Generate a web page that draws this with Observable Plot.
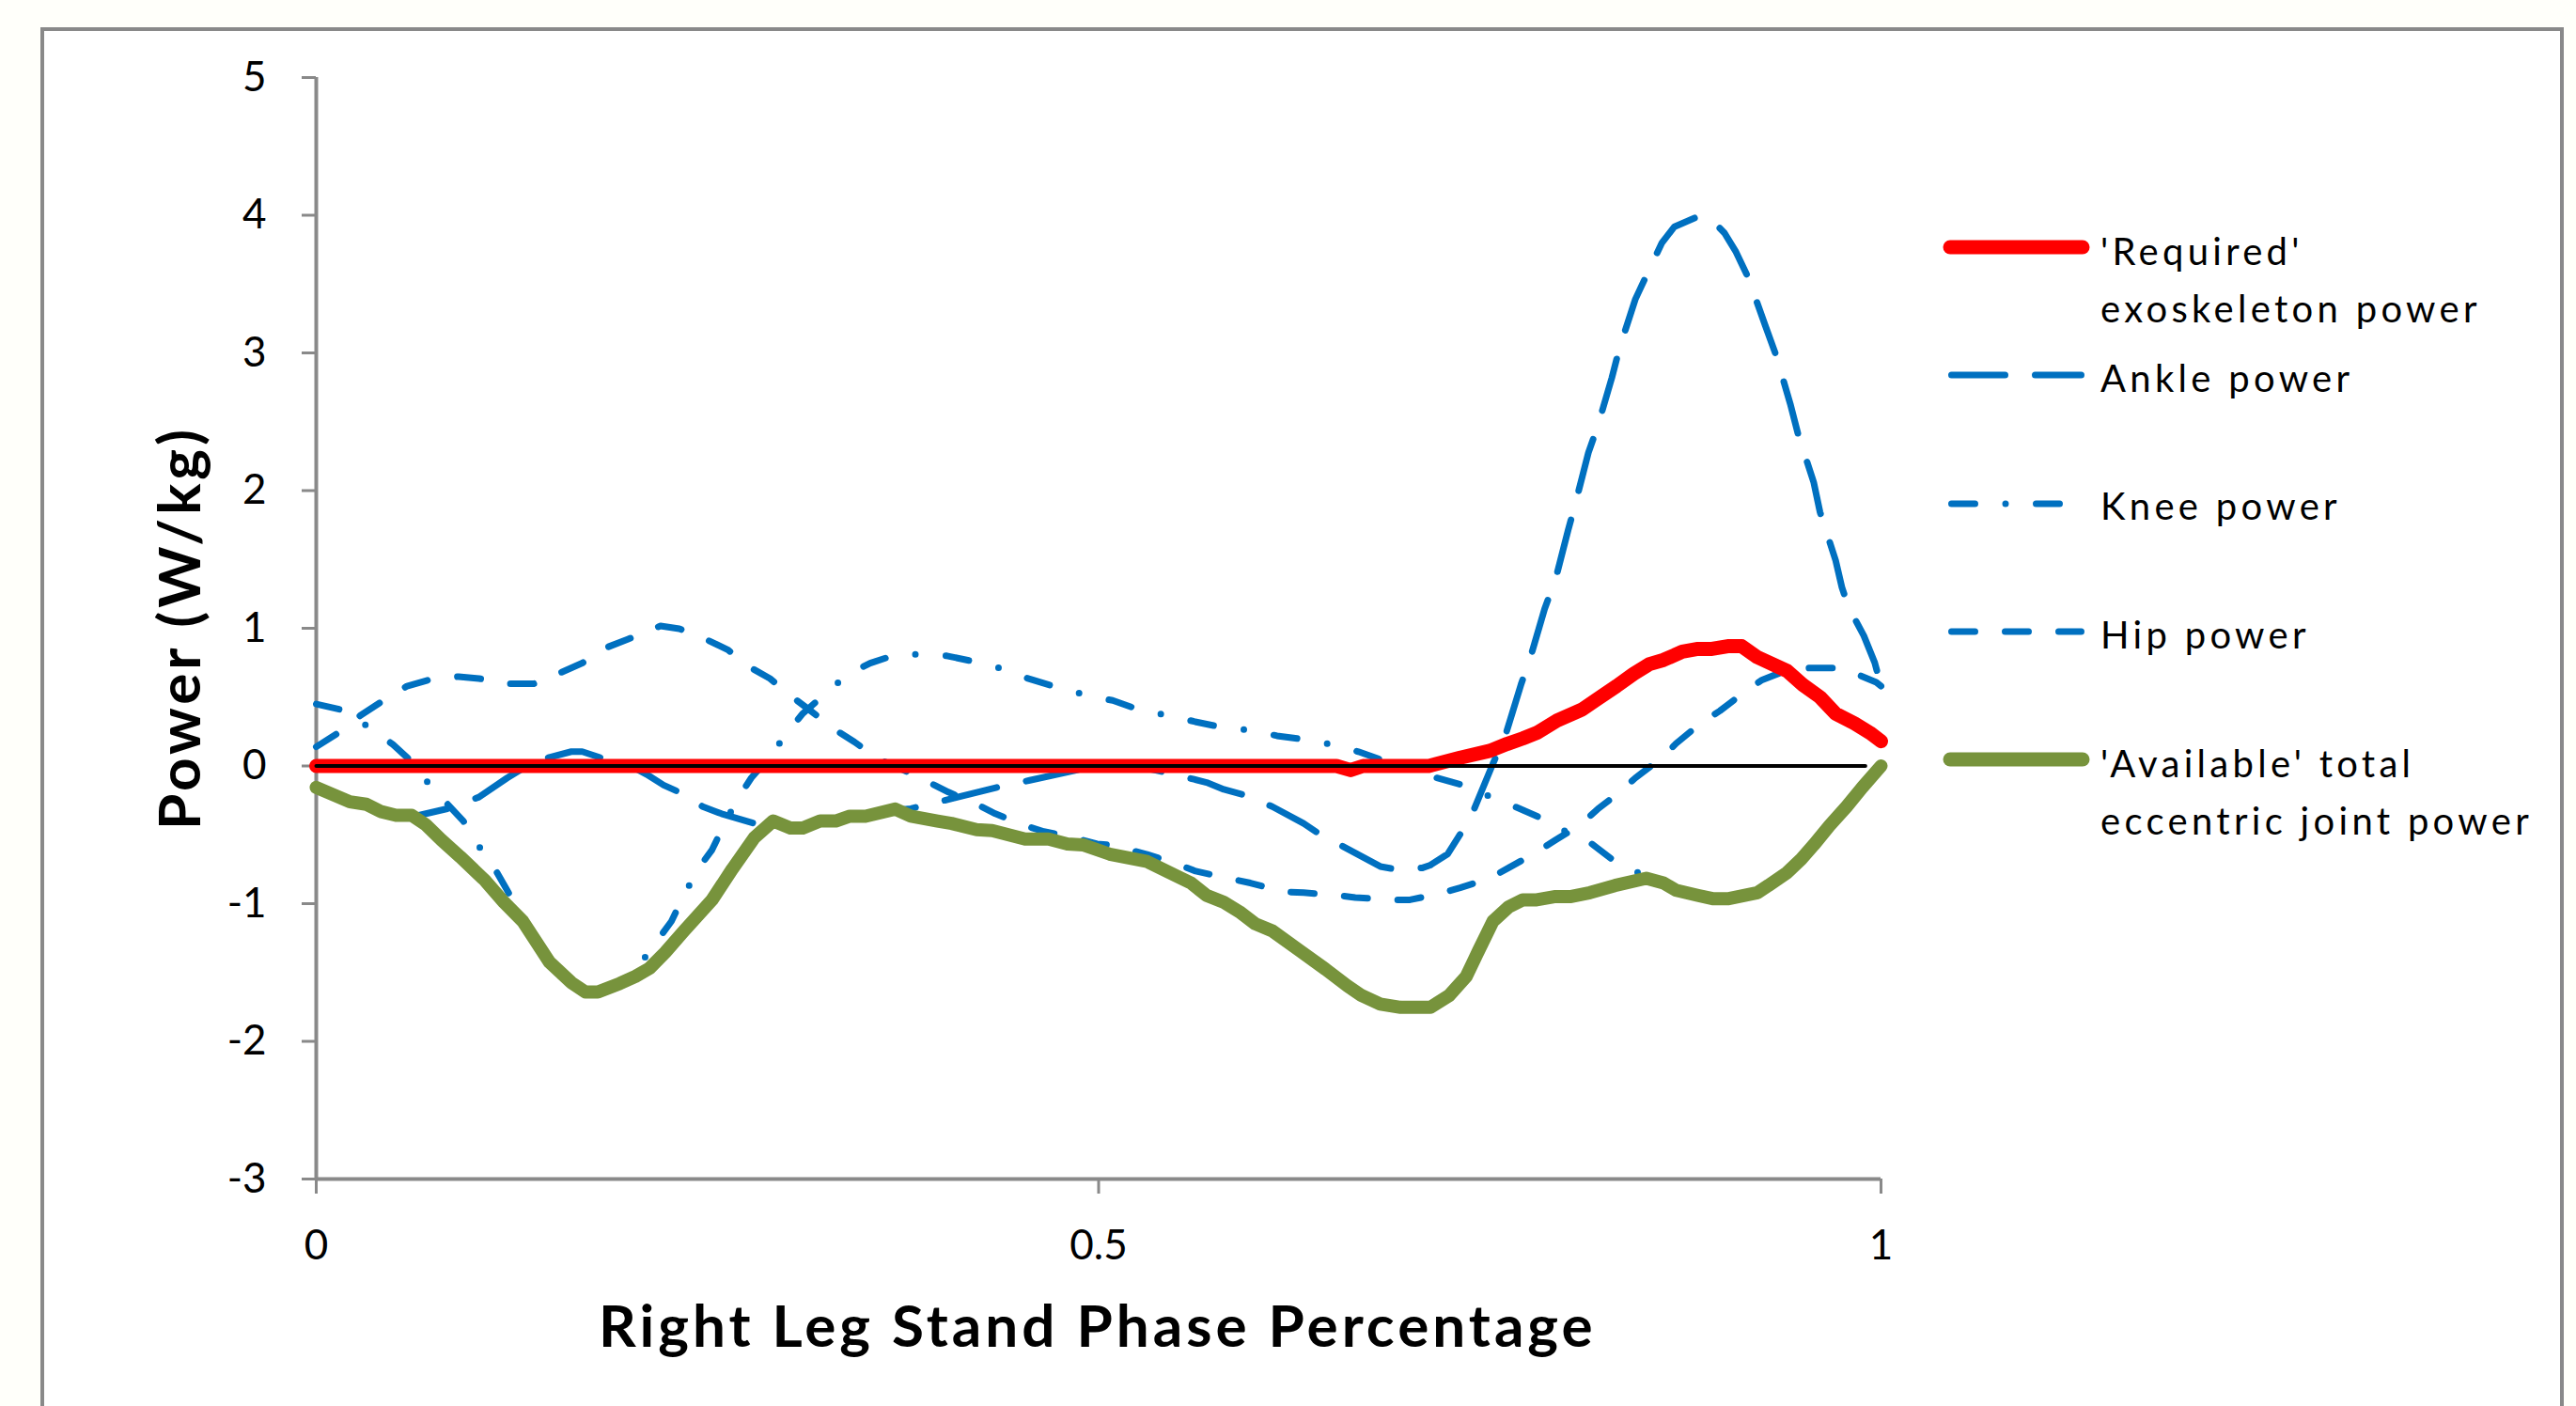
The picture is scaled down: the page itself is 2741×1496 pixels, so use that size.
<!DOCTYPE html>
<html>
<head>
<meta charset="utf-8">
<script src="https://cdn.jsdelivr.net/npm/d3@7"></script>
<script src="https://cdn.jsdelivr.net/npm/@observablehq/plot@0.6"></script>
<style>
  html, body { margin: 0; padding: 0; background: #fffffa; width: 2741px; height: 1496px; overflow: hidden; }
  #frame { position: absolute; left: 43px; top: 29px; width: 2677px; height: 1600px; border: 4px solid #898989; background: #ffffff; }
  #chart { position: absolute; left: 0; top: 0; }
  #legend { position: absolute; left: 0; top: 0; }
  .title { position: absolute; font-family: Lato, "Open Sans", sans-serif; font-weight: bold; font-size: 62px; letter-spacing: 4px; color: #000; white-space: nowrap; }
</style>
</head>
<body>
<div id="frame"></div>
<div id="chart"></div>
<svg id="legend" width="2741" height="1496"></svg>
<div class="title" id="xtitle">Right Leg Stand Phase Percentage</div>
<div class="title" id="ytitle">Power (W/kg)</div>
<script>
// ---- data ----
const xTicks = [0, 0.5, 1];
const yTicks = [-3, -2, -1, 0, 1, 2, 3, 4, 5];

const requiredX = [0, 0.652, 0.661, 0.669, 0.711, 0.731, 0.750, 0.761, 0.771, 0.780, 0.793, 0.809, 0.818, 0.831, 0.842, 0.852, 0.861, 0.873, 0.883, 0.892, 0.902, 0.911, 0.921, 0.940, 0.950, 0.961, 0.971, 0.983, 0.993, 1.0];
const requiredY = [0, 0, -0.03, 0, 0, 0.06, 0.11, 0.16, 0.20, 0.24, 0.33, 0.41, 0.48, 0.58, 0.67, 0.74, 0.77, 0.83, 0.85, 0.85, 0.87, 0.87, 0.79, 0.69, 0.59, 0.50, 0.38, 0.31, 0.24, 0.18];

const ankleX = [0, 0.021, 0.032, 0.041, 0.051, 0.063, 0.084, 0.104, 0.122, 0.132, 0.149, 0.163, 0.170, 0.184, 0.201, 0.211, 0.222, 0.232, 0.247, 0.259, 0.280, 0.292, 0.303, 0.311, 0.322, 0.332, 0.341, 0.351, 0.370, 0.380, 0.404, 0.435, 0.456, 0.484, 0.490, 0.507, 0.531, 0.542, 0.561, 0.569, 0.580, 0.593, 0.611, 0.631, 0.640, 0.657, 0.680, 0.688, 0.707, 0.712, 0.723, 0.731, 0.740, 0.752, 0.760, 0.770, 0.776, 0.785, 0.792, 0.800, 0.805, 0.813, 0.819, 0.828, 0.833, 0.843, 0.851, 0.860, 0.868, 0.884, 0.891, 0.900, 0.907, 0.915, 0.926, 0.933, 0.942, 0.947, 0.957, 0.961, 0.971, 0.975, 0.979, 0.989, 0.996, 1.0];
const ankleY = [-0.156, -0.26, -0.28, -0.33, -0.358, -0.365, -0.31, -0.226, -0.087, -0.017, 0.063, 0.104, 0.104, 0.052, 0, -0.06, -0.139, -0.19, -0.295, -0.347, -0.417, -0.40, -0.45, -0.45, -0.40, -0.40, -0.365, -0.365, -0.32, -0.31, -0.243, -0.156, -0.104, -0.035, -0.017, 0, -0.017, -0.045, -0.097, -0.12, -0.17, -0.21, -0.295, -0.417, -0.486, -0.59, -0.73, -0.747, -0.74, -0.72, -0.64, -0.497, -0.313, 0.017, 0.223, 0.594, 0.79, 1.14, 1.357, 1.71, 1.92, 2.275, 2.47, 2.82, 3.04, 3.39, 3.585, 3.80, 3.917, 3.995, 3.976, 3.87, 3.74, 3.55, 3.20, 2.98, 2.63, 2.41, 2.06, 1.845, 1.493, 1.298, 1.16, 0.946, 0.75, 0.58];

const kneeX = [0, 0.0155, 0.032, 0.049, 0.059, 0.071, 0.084, 0.094, 0.104, 0.115, 0.122, 0.132, 0.149, 0.163, 0.172, 0.180, 0.194, 0.201, 0.208, 0.218, 0.227, 0.235, 0.244, 0.253, 0.261, 0.270, 0.278, 0.290, 0.301, 0.311, 0.325, 0.339, 0.354, 0.371, 0.390, 0.403, 0.425, 0.442, 0.453, 0.475, 0.496, 0.509, 0.528, 0.549, 0.561, 0.580, 0.597, 0.614, 0.633, 0.652, 0.666, 0.683, 0.700, 0.714, 0.735, 0.754, 0.766, 0.785, 0.800, 0.814, 0.830, 0.847, 0.861, 0.869, 0.883, 0.893, 0.902, 0.921, 0.928, 0.940, 0.949, 0.957, 0.967, 0.978, 0.988, 1.0];
const kneeY = [0.45, 0.41, 0.295, 0.156, 0.052, -0.115, -0.278, -0.40, -0.583, -0.764, -0.903, -1.11, -1.42, -1.57, -1.64, -1.64, -1.58, -1.53, -1.424, -1.267, -1.128, -0.938, -0.747, -0.608, -0.417, -0.226, -0.087, 0.07, 0.243, 0.382, 0.521, 0.66, 0.747, 0.81, 0.81, 0.80, 0.747, 0.694, 0.642, 0.566, 0.503, 0.476, 0.40, 0.358, 0.323, 0.278, 0.26, 0.219, 0.191, 0.149, 0.104, 0.035, -0.017, -0.08, -0.146, -0.243, -0.295, -0.389, -0.486, -0.556, -0.694, -0.788, -0.85, -0.903, -0.94, -0.965, -0.965, -0.92, -0.868, -0.774, -0.677, -0.573, -0.434, -0.295, -0.156, 0];

const hipX = [0, 0.0145, 0.028, 0.042, 0.058, 0.072, 0.091, 0.104, 0.123, 0.139, 0.156, 0.170, 0.185, 0.199, 0.220, 0.232, 0.249, 0.263, 0.278, 0.290, 0.304, 0.316, 0.332, 0.344, 0.359, 0.373, 0.389, 0.404, 0.422, 0.434, 0.453, 0.465, 0.484, 0.499, 0.507, 0.531, 0.550, 0.562, 0.583, 0.597, 0.618, 0.631, 0.652, 0.664, 0.685, 0.699, 0.718, 0.731, 0.750, 0.762, 0.780, 0.792, 0.807, 0.819, 0.833, 0.843, 0.861, 0.869, 0.885, 0.897, 0.912, 0.924, 0.942, 0.955, 0.974, 0.986, 0.997, 1.0];
const hipY = [0.139, 0.243, 0.365, 0.469, 0.58, 0.625, 0.649, 0.635, 0.597, 0.597, 0.677, 0.747, 0.858, 0.92, 1.017, 0.997, 0.92, 0.844, 0.712, 0.635, 0.503, 0.40, 0.26, 0.174, 0.052, -0.017, -0.104, -0.19, -0.278, -0.347, -0.434, -0.476, -0.52, -0.566, -0.573, -0.642, -0.712, -0.764, -0.816, -0.85, -0.913, -0.92, -0.938, -0.955, -0.972, -0.972, -0.927, -0.885, -0.816, -0.74, -0.625, -0.538, -0.434, -0.313, -0.19, -0.087, 0.069, 0.163, 0.313, 0.40, 0.531, 0.625, 0.705, 0.712, 0.712, 0.66, 0.608, 0.58];

const availableX = [0, 0.0215, 0.032, 0.041, 0.051, 0.061, 0.070, 0.080, 0.092, 0.108, 0.120, 0.132, 0.149, 0.163, 0.172, 0.180, 0.194, 0.204, 0.213, 0.223, 0.235, 0.253, 0.266, 0.280, 0.292, 0.303, 0.311, 0.322, 0.332, 0.341, 0.351, 0.370, 0.380, 0.397, 0.406, 0.422, 0.432, 0.453, 0.468, 0.480, 0.490, 0.507, 0.531, 0.550, 0.559, 0.569, 0.580, 0.590, 0.600, 0.611, 0.628, 0.645, 0.659, 0.668, 0.680, 0.693, 0.712, 0.724, 0.735, 0.743, 0.752, 0.762, 0.771, 0.780, 0.792, 0.802, 0.814, 0.830, 0.850, 0.861, 0.869, 0.883, 0.893, 0.902, 0.921, 0.928, 0.940, 0.949, 0.957, 0.967, 0.978, 0.988, 1.0];
const availableY = [-0.156, -0.26, -0.278, -0.33, -0.358, -0.358, -0.427, -0.538, -0.66, -0.833, -0.99, -1.128, -1.424, -1.573, -1.642, -1.642, -1.58, -1.528, -1.469, -1.354, -1.198, -0.972, -0.747, -0.521, -0.40, -0.45, -0.45, -0.40, -0.40, -0.365, -0.365, -0.313, -0.365, -0.40, -0.417, -0.462, -0.469, -0.531, -0.531, -0.566, -0.573, -0.64, -0.694, -0.80, -0.85, -0.94, -0.99, -1.059, -1.146, -1.198, -1.337, -1.476, -1.597, -1.667, -1.729, -1.753, -1.753, -1.667, -1.528, -1.337, -1.128, -1.024, -0.972, -0.972, -0.948, -0.948, -0.92, -0.868, -0.816, -0.85, -0.903, -0.94, -0.965, -0.965, -0.92, -0.868, -0.774, -0.677, -0.573, -0.434, -0.295, -0.156, 0];

const zeroX = [0, 0.99];
const zeroY = [0, 0];

const seriesNames = ["'Required' exoskeleton power", "Ankle power", "Knee power", "Hip power", "'Available' total eccentric joint power"];

// ---- styles ----
const RED = "#ff0000", BLUE = "#0070c0", GREEN = "#77933c", AXIS = "#898989";
const DASH_ANKLE = "57,32", DASH_KNEE = "25,32.5,0,32.5", DASH_HIP = "25,32";

const zip = (xs, ys) => xs.map((x, i) => ({x, y: ys[i]}));

const lineOpts = (stroke, width, dash) => ({
  x: "x", y: "y", stroke, strokeWidth: width, strokeDasharray: dash,
  strokeLinecap: "round", strokeLinejoin: "round", curve: "linear"
});

const chart = Plot.plot({
  width: 2741,
  height: 1496,
  marginLeft: 336,
  marginRight: 740,
  marginTop: 82,
  marginBottom: 242,
  style: {background: "transparent", fontFamily: "Lato, 'Open Sans', sans-serif", fontSize: "44px", color: "#000", overflow: "visible"},
  x: {domain: [0, 1]},
  y: {domain: [-3, 5]},
  marks: [
    Plot.axisY(yTicks, {tickSize: 15, tickPadding: 38, stroke: AXIS, strokeWidth: 3, fill: "#000", fontSize: 44, label: null, tickFormat: d => String(d)}),
    Plot.axisX(xTicks, {tickSize: 16, tickPadding: 38, stroke: AXIS, strokeWidth: 3, fill: "#000", fontSize: 44, label: null, tickFormat: d => String(d)}),
    Plot.ruleX([0], {stroke: AXIS, strokeWidth: 4}),
    Plot.ruleY([-3], {stroke: AXIS, strokeWidth: 4}),
    Plot.line(zip(ankleX, ankleY), lineOpts(BLUE, 7, DASH_ANKLE)),
    Plot.line(zip(kneeX, kneeY), lineOpts(BLUE, 7, DASH_KNEE)),
    Plot.line(zip(hipX, hipY), lineOpts(BLUE, 7, DASH_HIP)),
    Plot.line(zip(requiredX, requiredY), lineOpts(RED, 15)),
    Plot.line(zip(availableX, availableY), lineOpts(GREEN, 14)),
    Plot.line(zip(zeroX, zeroY), {x: "x", y: "y", stroke: "#000", strokeWidth: 4})
  ]
});
document.getElementById("chart").appendChild(chart);

// ---- titles ----
const xt = document.getElementById("xtitle");
xt.style.left = (1168 - xt.offsetWidth / 2) + "px";
xt.style.top = "1372px";
const yt = document.getElementById("ytitle");
yt.style.left = (189 - yt.offsetWidth / 2) + "px";
yt.style.top = (668 - yt.offsetHeight / 2) + "px";
yt.style.transform = "rotate(-90deg)";

// ---- legend ----
const legendItems = [
  {lines: ["'Required'", "exoskeleton power"], stroke: RED, width: 15, dash: null, y: 263, base: 282},
  {lines: ["Ankle power"], stroke: BLUE, width: 7, dash: DASH_ANKLE, y: 399, base: 417},
  {lines: ["Knee power"], stroke: BLUE, width: 7, dash: DASH_KNEE, y: 536, base: 553},
  {lines: ["Hip power"], stroke: BLUE, width: 7, dash: DASH_HIP, y: 672, base: 690},
  {lines: ["'Available' total", "eccentric joint power"], stroke: GREEN, width: 15, dash: null, y: 808, base: 827}
];
const lg = d3.select("#legend");
legendItems.forEach(it => {
  const thick = it.width > 10;
  lg.append("line")
    .attr("x1", thick ? 2075 : 2076.5).attr("x2", thick ? 2216 : 2214.5)
    .attr("y1", it.y).attr("y2", it.y)
    .attr("stroke", it.stroke).attr("stroke-width", it.width)
    .attr("stroke-linecap", "round")
    .attr("stroke-dasharray", it.dash);
  it.lines.forEach((t, i) => {
    lg.append("text")
      .attr("x", 2235).attr("y", it.base + i * 61)
      .attr("font-family", "Lato, 'Open Sans', sans-serif")
      .attr("font-size", 40)
      .attr("letter-spacing", "4.3px")
      .attr("fill", "#000")
      .text(t);
  });
});
</script>
</body>
</html>
